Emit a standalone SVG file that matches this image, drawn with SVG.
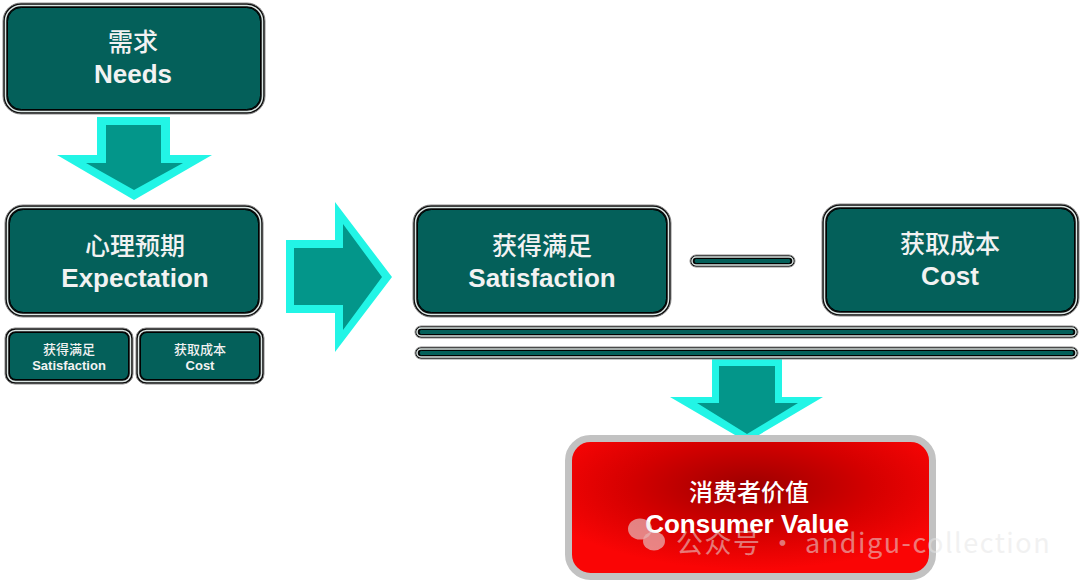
<svg xmlns="http://www.w3.org/2000/svg" width="1080" height="580" viewBox="0 0 1080 580">
<defs>
<style>
.o{fill:#0a0a0a;stroke:#8a8a8a;stroke-width:1}
.m{fill:none;stroke:#dbe6e4;stroke-width:1.5}
.i{fill:#04605A;stroke:#000;stroke-width:1}
.ac{fill:#22F5E6}
.ai{fill:#03968A}
.zh{font-family:"Noto Sans CJK SC","Noto Sans",sans-serif;fill:#f2f2f2;text-anchor:middle;font-weight:500}
.en{font-family:"Liberation Sans",Arial,sans-serif;font-weight:bold;fill:#f2f2f2;text-anchor:middle}
.wm{font-family:"Noto Sans CJK SC","Noto Sans",sans-serif;fill:#e6e6e6;fill-opacity:0.7;font-size:27px;letter-spacing:1.5px}
</style>
<radialGradient id="red" cx="0.5" cy="0.35" r="0.6">
<stop offset="0" stop-color="#9c0000"/>
<stop offset="0.55" stop-color="#d40000"/>
<stop offset="1" stop-color="#fa0505"/>
</radialGradient>
</defs>
<rect width="1080" height="580" fill="#fff"/>

<g id="connectors">
<polygon class="ac" points="97,117 170,117 170,155 212,155 134,200 57,155 97,155"/>
<polygon class="ai" points="106,125 161,125 161,163 183,163 134,190 86,163 106,163"/>
<polygon class="ac" points="286,240 335,240 335,202 392,277 335,352 335,313 286,313"/>
<polygon class="ai" points="294,248 343,248 343,224 382,277 343,330 343,305 294,305"/>
<polygon class="ac" points="712,359 782,359 782,397 823,397 747,442 670,397 712,397"/>
<polygon class="ai" points="719,366 775,366 775,403 798,403 747,434 697,403 719,403"/>
</g>

<g id="needs">
<rect class="o" x="3" y="3" width="262" height="111" rx="18"/>
<rect class="m" x="5.5" y="5.5" width="257" height="106" rx="15.5"/>
<rect class="i" x="7.5" y="7.5" width="253" height="102" rx="14"/>
<text class="zh" x="133" y="51" font-size="25">需求</text>
<text class="en" x="133" y="83" font-size="26">Needs</text>
</g>

<g id="expectation">
<rect class="o" x="5" y="205" width="258" height="112" rx="18"/>
<rect class="m" x="7.5" y="207.5" width="253" height="107" rx="15.5"/>
<rect class="i" x="9.5" y="209.5" width="249" height="103" rx="14"/>
<text class="zh" x="135" y="255" font-size="25">心理预期</text>
<text class="en" x="135" y="287" font-size="26">Expectation</text>
</g>

<g id="small-satisfaction">
<rect class="o" x="5" y="328" width="128" height="56" rx="10"/>
<rect class="m" x="7.5" y="330.5" width="123" height="51" rx="8"/>
<rect class="i" x="9.5" y="332.5" width="119" height="47" rx="6.5"/>
<text class="zh" x="69" y="354" font-size="13">获得满足</text>
<text class="en" x="69" y="370" font-size="13">Satisfaction</text>
</g>

<g id="small-cost">
<rect class="o" x="136" y="328" width="128" height="56" rx="10"/>
<rect class="m" x="138.5" y="330.5" width="123" height="51" rx="8"/>
<rect class="i" x="140.5" y="332.5" width="119" height="47" rx="6.5"/>
<text class="zh" x="200" y="354" font-size="13">获取成本</text>
<text class="en" x="200" y="370" font-size="13">Cost</text>
</g>

<g id="satisfaction">
<rect class="o" x="413" y="205" width="258" height="112" rx="18"/>
<rect class="m" x="415.5" y="207.5" width="253" height="107" rx="15.5"/>
<rect class="i" x="417.5" y="209.5" width="249" height="103" rx="14"/>
<text class="zh" x="542" y="255" font-size="25">获得满足</text>
<text class="en" x="542" y="287" font-size="26">Satisfaction</text>
</g>

<g id="minus">
<rect class="o" x="690" y="255" width="105" height="12" rx="6"/>
<rect class="m" x="692" y="257" width="101" height="8" rx="4"/>
<rect class="i" x="694" y="258.5" width="97" height="5" rx="2.5"/>
</g>

<g id="cost">
<rect class="o" x="822" y="204" width="257" height="112" rx="18"/>
<rect class="m" x="824.5" y="206.5" width="252" height="107" rx="15.5"/>
<rect class="i" x="826.5" y="208.5" width="248" height="103" rx="14"/>
<text class="zh" x="950" y="253" font-size="25">获取成本</text>
<text class="en" x="950" y="285" font-size="26">Cost</text>
</g>

<g id="bars">
<rect class="o" x="415" y="326" width="663" height="12" rx="6"/>
<rect class="m" x="417" y="328" width="659" height="8" rx="4"/>
<rect class="i" x="419" y="329.5" width="655" height="5" rx="2.5"/>
<rect class="o" x="415" y="347" width="663" height="12" rx="6"/>
<rect class="m" x="417" y="349" width="659" height="8" rx="4"/>
<rect class="i" x="419" y="350.5" width="655" height="5" rx="2.5"/>
</g>

<g id="consumer-value">
<rect x="568.5" y="438.5" width="364" height="138" rx="22" fill="url(#red)" stroke="#c2c2c2" stroke-width="7"/>
<text class="zh" x="749" y="501" font-size="24" font-weight="bold" style="fill:#fff">消费者价值</text>
<text class="en" x="747" y="533" font-size="26" style="fill:#fff">Consumer Value</text>
</g>

<g id="watermark" opacity="0.75">
<ellipse cx="640" cy="529" rx="12" ry="10.5" fill="#e8e8e8" fill-opacity="0.75"/>
<ellipse cx="654" cy="541" rx="11" ry="9.5" fill="#e8e8e8" fill-opacity="0.75"/>
<text class="wm" x="676" y="553">公众号 · andigu-collection</text>
</g>
</svg>
